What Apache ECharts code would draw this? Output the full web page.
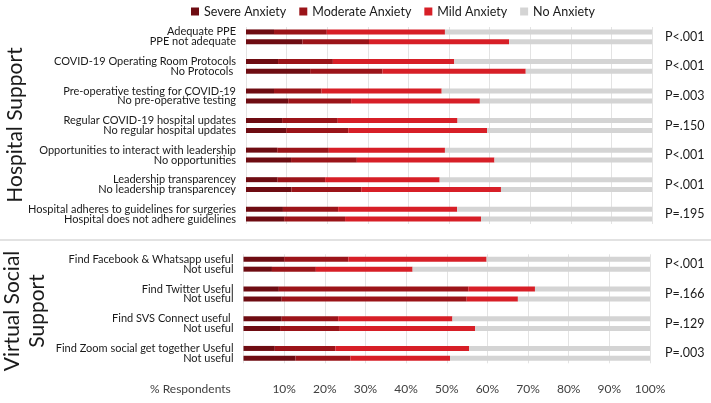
<!DOCTYPE html>
<html>
<head>
<meta charset="utf-8">
<script src="https://cdn.jsdelivr.net/npm/echarts@6/dist/echarts.min.js"></script>
<style>html,body{margin:0;padding:0;background:#fff}#c{width:711px;height:403px}</style>
</head>
<body>
<div id="c"></div>
<script>
// ---------- DATA ----------
const hospitalLabels = [
  'Adequate PPE', 'PPE not adequate',
  'COVID-19 Operating Room Protocols', 'No Protocols ',
  'Pre-operative testing for COVID-19', 'No pre-operative testing',
  'Regular COVID-19 hospital updates', 'No regular hospital updates',
  'Opportunities to interact with leadership', 'No opportunities',
  'Leadership transparencey', 'No leadership transparencey',
  'Hospital adheres to guidelines for surgeries', 'Hospital does not adhere guidelines'
];
const hospitalSevere   = [6.9, 13.9, 7.9, 15.8, 6.9, 10.4, 8.9, 9.9, 7.7, 11.1, 7.8, 11.2, 9.1, 9.4];
const hospitalModerate = [13.0, 16.4, 13.5, 17.8, 11.7, 15.5, 13.7, 15.3, 12.7, 16.2, 11.7, 17.2, 13.6, 15.0];
const hospitalMild     = [29.1, 34.5, 29.9, 35.3, 29.6, 31.7, 29.5, 34.2, 28.6, 33.9, 28.2, 34.4, 29.3, 33.5];
const hospitalNone     = [51.0, 35.2, 48.7, 31.1, 51.8, 42.4, 47.9, 40.6, 51.0, 38.8, 52.3, 37.2, 48.0, 42.1];
const hospitalP = ['P<.001', 'P<.001', 'P=.003', 'P=.150', 'P<.001', 'P<.001', 'P=.195'];

const virtualLabels = [
  'Find Facebook & Whatsapp useful', 'Not useful',
  'Find Twitter Useful', 'Not useful',
  'Find SVS Connect useful ', 'Not useful',
  'Find Zoom social get together Useful', 'Not useful'
];
const virtualSevere   = [10.0, 7.0, 8.7, 9.4, 9.4, 9.0, 7.7, 12.8];
const virtualModerate = [15.8, 10.8, 46.6, 45.5, 13.9, 14.7, 14.9, 13.5];
const virtualMild     = [34.0, 23.8, 16.4, 12.6, 28.1, 33.3, 32.9, 24.5];
const virtualNone     = [40.2, 58.4, 28.3, 32.5, 48.6, 43.0, 44.5, 49.2];
const virtualP = ['P<.001', 'P=.166', 'P=.129', 'P=.003'];

const seriesNames = ['Severe Anxiety', 'Moderate Anxiety', 'Mild Anxiety', 'No Anxiety'];
const xTicks = [0, 10, 20, 30, 40, 50, 60, 70, 80, 90, 100];
const sectionTitles = ['Hospital Support', 'Virtual Social\nSupport'];

// ---------- BUILD ----------
const colors = ['#6e0c12', '#9b1419', '#d71f27', '#d4d4d4'];
const FONT = 'Lato';

function withGaps(arr, gapVal) {
  const out = [];
  for (let i = 0; i < arr.length; i++) {
    if (i > 0 && i % 2 === 0) out.push(gapVal);
    out.push(arr[i]);
  }
  return out;
}
const hKeys = withGaps(hospitalLabels, '').map((c, i) => i + '|' + c);
const vKeys = withGaps(virtualLabels, '').map((c, i) => i + '|' + c);

const hData = [hospitalSevere, hospitalModerate, hospitalMild, hospitalNone].map(a => withGaps(a, '-'));
const vData = [virtualSevere, virtualModerate, virtualMild, virtualNone].map(a => withGaps(a, '-'));

const chart = echarts.init(document.getElementById('c'));

function xAxis(gi, showLabels) {
  return {
    type: 'value', gridIndex: gi, min: xTicks[0], max: xTicks[xTicks.length - 1], interval: 10,
    axisLine: { show: false }, axisTick: { show: false },
    splitLine: { show: true, lineStyle: { color: '#e3e3e3', width: 1 } },
    axisLabel: {
      show: showLabels, fontFamily: FONT, fontSize: 12, color: '#404040', margin: 20,
      formatter: v => v === 0 ? '' : v + '%'
    }
  };
}
function yAxis(gi, keys) {
  return {
    type: 'category', gridIndex: gi, data: keys, inverse: true,
    axisLine: { show: false }, axisTick: { show: false },
    axisLabel: {
      interval: 0, hideOverlap: false,
      fontFamily: FONT, fontSize: 11, color: '#1a1a1a', margin: 10,
      formatter: v => v.slice(v.indexOf('|') + 1)
    }
  };
}
const series = [];
[hData, vData].forEach((set, gi) => {
  set.forEach((d, si) => {
    series.push({
      name: seriesNames[si], type: 'bar', stack: 's' + gi,
      xAxisIndex: gi, yAxisIndex: gi, data: d, barWidth: 5,
      itemStyle: { color: colors[si] }, silent: true, animation: false
    });
  });
});

chart.setOption({
  animation: false,
  color: colors,
  legend: {
    data: seriesNames, left: 186, top: 0, icon: 'rect', itemWidth: 8, itemHeight: 8,
    itemGap: 13, textStyle: { fontFamily: FONT, fontSize: 12.5, color: '#1a1a1a' }
  },
  grid: [
    { left: 246, width: 406, top: 27, height: 197 },
    { left: 243.5, width: 406.5, top: 254.3, height: 109 }
  ],
  xAxis: [xAxis(0, false), xAxis(1, true)],
  yAxis: [yAxis(0, hKeys), yAxis(1, vKeys)],
  series: series
});

const g = [];
function pLabels(gi, keys, pvals) {
  pvals.forEach((p, k) => {
    const a = chart.convertToPixel({ yAxisIndex: gi }, keys[k * 3]);
    const b = chart.convertToPixel({ yAxisIndex: gi }, keys[k * 3 + 1]);
    g.push({
      type: 'text', x: 665, y: (a + b) / 2,
      style: { text: p, fontFamily: FONT, fontSize: 12.5, fill: '#1a1a1a', verticalAlign: 'middle', align: 'left' }
    });
  });
}
pLabels(0, hKeys, hospitalP);
pLabels(1, vKeys, virtualP);
g.push({
  type: 'line', shape: { x1: 0, y1: 240, x2: 711, y2: 240 },
  style: { stroke: '#d9d9d9', lineWidth: 1.5 }
});
g.push({
  type: 'text', x: 15, y: 125, rotation: Math.PI / 2,
  style: { text: sectionTitles[0], fontFamily: FONT, fontSize: 21, fill: '#1a1a1a', align: 'center', verticalAlign: 'middle' }
});
g.push({
  type: 'text', x: 25, y: 311, rotation: Math.PI / 2,
  style: { text: sectionTitles[1], fontFamily: FONT, fontSize: 21, lineHeight: 25, fill: '#1a1a1a', align: 'center', verticalAlign: 'middle' }
});
g.push({
  type: 'text', x: 150, y: 389,
  style: { text: '% Respondents', fontFamily: FONT, fontSize: 12, fill: '#404040', align: 'left', verticalAlign: 'middle' }
});
chart.setOption({ graphic: g });
</script>
</body>
</html>
